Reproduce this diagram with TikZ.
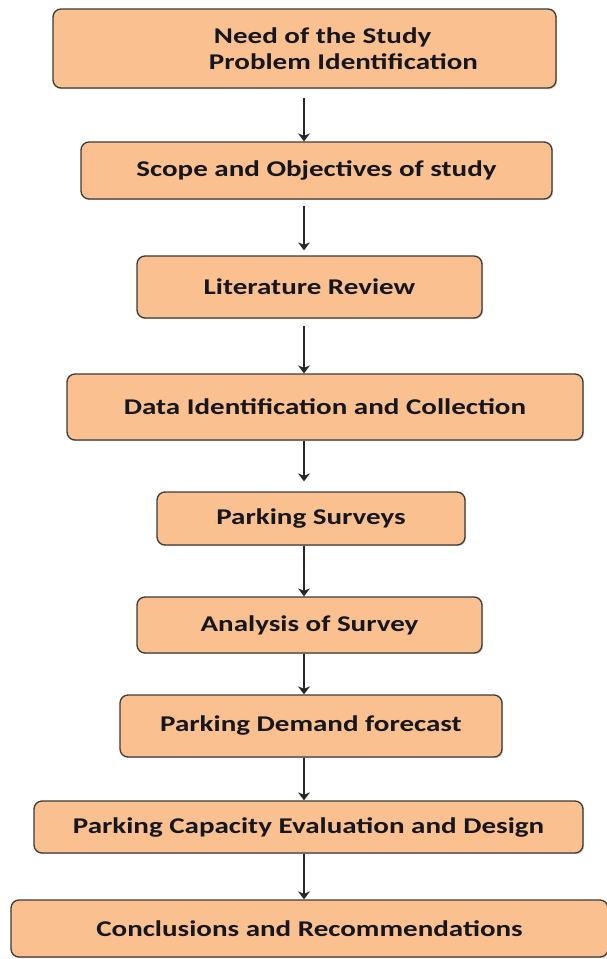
\documentclass[tikz,border=0pt]{standalone}
\usepackage{fontspec}
\usepackage{xcolor}
\usepackage{tikz}
\usetikzlibrary{arrows.meta,positioning,shadows}

\newfontfamily\flowfont{Carlito}[FakeStretch=1.29]
\definecolor{boxfill}{HTML}{FAC090}
\definecolor{boxline}{HTML}{3A3A3A}
\definecolor{inkdark}{HTML}{16161E}

\begin{document}
\begin{tikzpicture}[
  x=1pt, y=-1pt,
  every node/.style={font=\flowfont\bfseries\fontsize{22.5}{26}\selectfont, text=inkdark},
  box/.style={draw=boxline, fill=boxfill, rounded corners=8pt, line width=1.3pt,
              inner sep=0pt, align=center,
              drop shadow={shadow xshift=1.2pt, shadow yshift=-1.2pt, opacity=0.35}},
  lbl/.style={inner sep=0pt},
  arr/.style={-{Stealth[length=8pt,width=12pt,inset=2.5pt]}, line width=1.4pt, draw=black!85},
]
  \useasboundingbox (0,0) rectangle (606,959);
  \coordinate (spine) at (304,0);

  % process boxes, top to bottom
  \node[box, minimum width=503pt, minimum height=79pt] (need) at (304.5,48.5) {};
  \node[lbl, align=left] (needtxt) at (343.5,48.5) {\hspace*{5pt}Need of the Study\\Problem Identification};
  \node[box, minimum width=471pt, minimum height=57pt] (scope) at (316.5,170.5) {Scope and Objectives of study};
  \node[box, minimum width=345pt, minimum height=62pt] (lit)   at (309.5,287)   {Literature Review};
  \node[box, minimum width=516pt, minimum height=66pt] (data)  at (325,407)     {Data Identification and Collection};
  \node[box, minimum width=308pt, minimum height=53pt] (surv)  at (311,518.5)   {Parking Surveys};
  \node[box, minimum width=345pt, minimum height=56pt] (anal)  at (309.5,625)   {Analysis of Survey};
  \node[box, minimum width=382pt, minimum height=62pt] (dem)   at (311,726)     {Parking Demand forecast};
  \node[box, minimum width=549pt, minimum height=52pt] (cap)   at (308.5,827)   {Parking Capacity Evaluation and Design};
  \node[box, minimum width=597pt, minimum height=57pt] (conc)  at (309.5,928.5) {Conclusions and Recommendations};

  % arrows down the spine
  \draw[arr, shorten <=9pt]                (need.south -| spine)  -- (scope.north -| spine);
  \draw[arr, shorten <=6pt, shorten >=5pt] (scope.south -| spine) -- (lit.north -| spine);
  \draw[arr, shorten <=7pt]                (lit.south -| spine)   -- (data.north -| spine);
  \draw[arr, shorten >=10pt]               (data.south -| spine)  -- (surv.north -| spine);
  \draw[arr]                               (surv.south -| spine)  -- (anal.north -| spine);
  \draw[arr]                               (anal.south -| spine)  -- (dem.north -| spine);
  \draw[arr]                               (dem.south -| spine)   -- (cap.north -| spine);
  \draw[arr]                               (cap.south -| spine)   -- (conc.north -| spine);
\end{tikzpicture}
\end{document}
